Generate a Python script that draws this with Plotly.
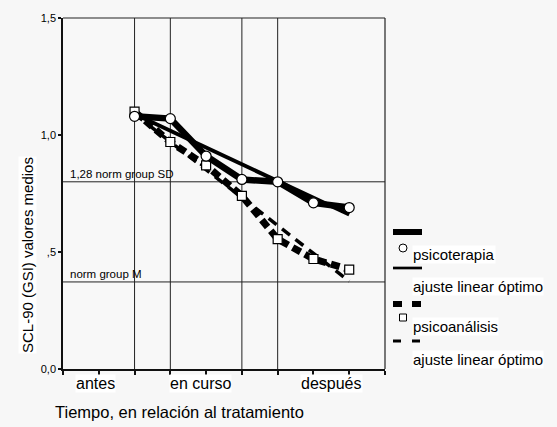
import plotly.graph_objects as go

# ---- data ----
time_pos = [2, 3, 4, 5, 6, 7, 8]
psicoterapia = [1.08, 1.07, 0.91, 0.81, 0.80, 0.71, 0.69]
psicoanalisis = [1.10, 0.97, 0.87, 0.74, 0.555, 0.47, 0.425]
fit_x = [2, 8]
fit_psicoterapia = [1.09, 0.66]
fit_psicoanalisis = [1.09, 0.375]
grid_x = [2, 3, 5, 6]
norm_sd = 0.80
norm_m = 0.372
y_tickvals = [0, 0.5, 1.0, 1.5]
y_ticktext = ["0,0", ",5", "1,0", "1,5"]
x_cat_pos = [0.9, 3.85, 7.5]
x_cat_labels = ["antes", "en curso", "después"]

W, H = 557, 427
L, R, T, B = 63, 172, 18, 58
PW, PH = W - L - R, H - T - B
FONT = "Liberation Sans, Arial, sans-serif"


def px(xp):
    return (xp - L) / PW


def py(yp):
    return (H - B - yp) / PH


fig = go.Figure()

fig.add_trace(go.Scatter(x=fit_x, y=fit_psicoterapia, mode="lines",
                         line=dict(color="black", width=4), showlegend=False))
fig.add_trace(go.Scatter(x=fit_x, y=fit_psicoanalisis, mode="lines",
                         line=dict(color="black", width=3.5, dash="10px,7px"), showlegend=False))
fig.add_trace(go.Scatter(x=time_pos, y=psicoanalisis, mode="lines+markers",
                         line=dict(color="black", width=7, dash="9px,5px"),
                         marker=dict(symbol="square", size=9, color="white",
                                     line=dict(color="black", width=1.2)),
                         showlegend=False))
fig.add_trace(go.Scatter(x=time_pos, y=psicoterapia, mode="lines+markers",
                         line=dict(color="black", width=6.5),
                         marker=dict(symbol="circle", size=10, color="white",
                                     line=dict(color="black", width=1.2)),
                         showlegend=False))

shapes = []
for gx in grid_x:
    shapes.append(dict(type="line", xref="x", yref="paper", x0=gx, x1=gx, y0=0, y1=1,
                       line=dict(color="#222", width=1), layer="below"))
for gy in [norm_sd, norm_m]:
    shapes.append(dict(type="line", xref="paper", yref="y", x0=0, x1=1, y0=gy, y1=gy,
                       line=dict(color="#222", width=1), layer="below"))
# frame top and right
shapes.append(dict(type="line", xref="paper", yref="paper", x0=0, x1=1, y0=1, y1=1,
                   line=dict(color="#222", width=1.2)))
shapes.append(dict(type="line", xref="paper", yref="paper", x0=1, x1=1, y0=0, y1=1,
                   line=dict(color="#222", width=1.2)))

# legend samples
def hline(x0, x1, y, w):
    shapes.append(dict(type="line", xref="paper", yref="paper", x0=px(x0), x1=px(x1),
                       y0=py(y), y1=py(y), line=dict(color="black", width=w)))

hline(393, 422, 232, 6)
hline(393, 422, 268, 2.7)
hline(393, 402, 304, 6)
hline(412, 421, 304, 6)
hline(393, 401, 341, 3)
hline(412, 420, 341, 3)
shapes.append(dict(type="circle", xref="paper", yref="paper",
                   x0=px(399), x1=px(407), y0=py(252), y1=py(244),
                   line=dict(color="black", width=1), fillcolor="white"))
shapes.append(dict(type="rect", xref="paper", yref="paper",
                   x0=px(399.5), x1=px(406.5), y0=py(321), y1=py(314),
                   line=dict(color="black", width=1), fillcolor="white"))

annotations = []
for txt, yy in [("psicoterapia", 254), ("ajuste linear óptimo", 286),
                ("psicoanálisis", 326), ("ajuste linear óptimo", 359)]:
    annotations.append(dict(text=txt, xref="paper", yref="paper", x=px(412), y=py(yy),
                            xanchor="left", yanchor="middle", showarrow=False,
                            font=dict(family=FONT, size=15, color="black"),
                            bgcolor="white", borderpad=0))

for xv, lab in zip(x_cat_pos, x_cat_labels):
    annotations.append(dict(text=lab, xref="x", yref="paper", x=xv, y=py(383),
                            xanchor="center", yanchor="middle", showarrow=False,
                            font=dict(family=FONT, size=16, color="black"),
                            bgcolor="white", borderpad=0))

annotations.append(dict(text="Tiempo, en relación al tratamiento", xref="paper", yref="paper",
                        x=px(53), y=py(412), xanchor="left", yanchor="middle", showarrow=False,
                        font=dict(family=FONT, size=16.5, color="black")))
annotations.append(dict(text="SCL-90 (GSI) valores medios", xref="paper", yref="paper",
                        x=px(27), y=py(255), xanchor="center", yanchor="middle", textangle=-90,
                        showarrow=False, font=dict(family=FONT, size=15, color="black"),
                        bgcolor="white", borderpad=0))
annotations.append(dict(text="1,28 norm group SD", xref="x", yref="y", x=0.15, y=norm_sd,
                        xanchor="left", yanchor="bottom", showarrow=False,
                        font=dict(family=FONT, size=11.5, color="black")))
annotations.append(dict(text="norm group M", xref="x", yref="y", x=0.15, y=norm_m,
                        xanchor="left", yanchor="bottom", showarrow=False,
                        font=dict(family=FONT, size=11.5, color="black")))

fig.update_layout(
    width=W, height=H,
    margin=dict(l=L, r=R, t=T, b=B),
    paper_bgcolor="#f7f7f7", plot_bgcolor="#f8f8f8",
    shapes=shapes, annotations=annotations,
    font=dict(family=FONT, color="black"),
    xaxis=dict(range=[0, 9], showgrid=False, zeroline=False, showline=True,
               linecolor="#111", linewidth=1.5, ticks="outside", ticklen=4,
               tickwidth=2, tickcolor="#111", tickvals=list(range(10)),
               showticklabels=False, fixedrange=True),
    yaxis=dict(range=[0, 1.5], showgrid=False, zeroline=False, showline=True,
               linecolor="#111", linewidth=1.5, ticks="outside", ticklen=3,
               tickwidth=2, tickcolor="#111", tickvals=y_tickvals, ticktext=y_ticktext,
               tickfont=dict(family=FONT, size=11, color="black"), fixedrange=True),
)

fig.write_html("out.html")
